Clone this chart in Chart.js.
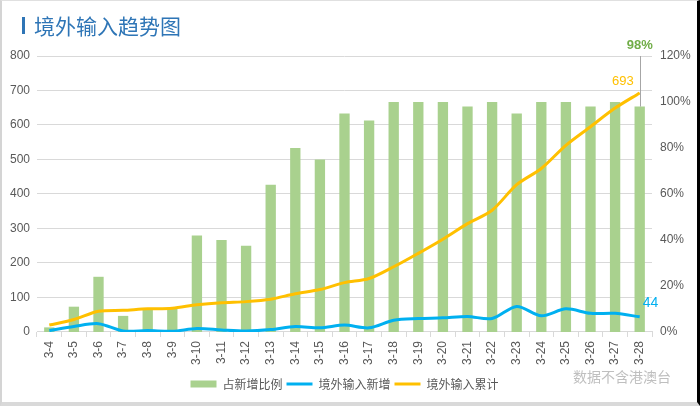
<!DOCTYPE html>
<html>
<head>
<meta charset="utf-8">
<script src="https://cdn.jsdelivr.net/npm/chart.js@4/dist/chart.umd.min.js"></script>
<style>
  html, body { margin: 0; padding: 0; background: #fff; }
  #wrap { position: relative; width: 700px; height: 406px; overflow: hidden; }
  #c { position: absolute; left: 0; top: 0; }
  #bar { position: absolute; left: 22px; top: 17px; width: 3px; height: 17px; background: #2e75b6; }
  #title { position: absolute; left: 34px; top: 10px; font-family: "Noto Sans CJK SC", sans-serif; font-size: 21px; color: #2e75b6; white-space: nowrap; line-height: 30px; }
  #note { position: absolute; right: 29px; top: 366px; font-family: "Noto Sans CJK SC", sans-serif; font-size: 14px; line-height: 20px; color: #bfbfbf; white-space: nowrap; }
  #frame { position: absolute; left: 0; top: 0; width: 700px; height: 406px; box-sizing: border-box;
    border-left: 2px solid #d4d4d4; border-top: 1px solid #e0e0e0; border-bottom: 4px solid #d9d9d9; border-right: 3px solid #000; pointer-events: none; }
</style>
</head>
<body>
<div id="wrap">
  <canvas id="c" width="700" height="406"></canvas>
  <div id="bar"></div>
  <div id="title">境外输入趋势图</div>
  <div id="note">数据不含港澳台</div>
  <div id="frame"></div>
</div>
<script>
const categories = ["3-4","3-5","3-6","3-7","3-8","3-9","3-10","3-11","3-12","3-13","3-14","3-15","3-16","3-17","3-18","3-19","3-20","3-21","3-22","3-23","3-24","3-25","3-26","3-27","3-28"];
// share of imported cases in daily new cases (right axis, fraction)
const shareOfNew = [0.02,0.11,0.24,0.07,0.10,0.105,0.42,0.40,0.375,0.64,0.80,0.75,0.95,0.92,1.00,1.00,1.00,0.98,1.00,0.95,1.00,1.00,0.98,1.00,0.98];
// daily new imported cases (left axis)
const importedNew = [4,16,24,3,4,2,10,6,3,7,16,12,20,12,34,39,41,45,39,74,47,67,54,54,44];
// cumulative imported cases (left axis)
const importedTotal = [20,36,60,63,67,69,79,85,88,95,111,123,143,155,189,228,269,314,353,427,474,541,595,649,693];
const leftTicks = [0,100,200,300,400,500,600,700,800];
const rightTicks = [0,0.2,0.4,0.6,0.8,1.0,1.2];

const seriesNames = ["占新增比例","境外输入新增","境外输入累计"];
const GREEN = "#a9d18e", BLUE = "#00b0f0", YELLOW = "#ffc000";
const tickFont = { family: "Liberation Sans", size: 12 };
const tickColor = "#595959";

const labelPlugin = {
  id: "endLabels",
  afterDatasetsDraw(chart) {
    const { ctx, scales, chartArea } = chart;
    const last = categories.length - 1;
    const x = scales.x.getPixelForValue(last);
    const yBar = scales.yR.getPixelForValue(shareOfNew[last]);
    const yTot = scales.y.getPixelForValue(importedTotal[last]);
    const yNew = scales.y.getPixelForValue(importedNew[last]);
    ctx.save();
    ctx.strokeStyle = "#a6a6a6";
    ctx.lineWidth = 1;
    ctx.beginPath();
    ctx.moveTo(Math.round(x) + 0.5, chartArea.top);
    ctx.lineTo(Math.round(x) + 0.5, yBar);
    ctx.stroke();
    ctx.textBaseline = "middle";
    ctx.font = "bold 13px 'Liberation Sans'";
    ctx.fillStyle = "#70ad47";
    ctx.textAlign = "center";
    ctx.fillText(Math.round(shareOfNew[last] * 100) + "%", x, chartArea.top - 11);
    ctx.font = "13px 'Liberation Sans'";
    ctx.fillStyle = YELLOW;
    ctx.textAlign = "right";
    ctx.fillText(String(importedTotal[last]), x - 6, yTot - 11);
    ctx.font = "14px 'Liberation Sans'";
    ctx.fillStyle = BLUE;
    ctx.textAlign = "left";
    ctx.fillText(String(importedNew[last]), x + 3, yNew - 14);
    ctx.restore();
  }
};

new Chart(document.getElementById("c"), {
  type: "bar",
  data: {
    labels: categories,
    datasets: [
      { type: "bar", label: seriesNames[0], data: shareOfNew, yAxisID: "yR", backgroundColor: GREEN, borderWidth: 0,
        categoryPercentage: 1, barPercentage: 0.42, order: 3, pointStyle: "rect" },
      { type: "line", label: seriesNames[1], data: importedNew, yAxisID: "y", borderColor: BLUE, backgroundColor: BLUE,
        borderWidth: 3, pointRadius: 0, tension: 0.3, order: 1, pointStyle: "line" },
      { type: "line", label: seriesNames[2], data: importedTotal, yAxisID: "y", borderColor: YELLOW, backgroundColor: YELLOW,
        borderWidth: 3, pointRadius: 0, tension: 0.3, order: 2, pointStyle: "line" }
    ]
  },
  options: {
    responsive: false,
    animation: false,
    events: [],
    layout: { padding: { top: 56, left: 0, right: 0, bottom: 6 } },
    plugins: {
      tooltip: { enabled: false },
      title: { display: false },
      legend: {
        position: "bottom",
        fullSize: false,
        labels: {
          usePointStyle: true, pointStyleWidth: 26, boxHeight: 7,
          sort: (a, b) => a.datasetIndex - b.datasetIndex,
          font: { family: "Noto Sans CJK SC", size: 12 }, color: tickColor, padding: 4
        }
      }
    },
    scales: {
      x: {
        afterFit(s) { s.height = s.height + 5; },
        grid: { display: true, drawOnChartArea: false, drawTicks: true, tickLength: 5, color: "#d9d9d9", offset: true },
        border: { display: true, color: "#d9d9d9" },
        ticks: { font: tickFont, color: tickColor, minRotation: 90, maxRotation: 90, autoSkip: false, padding: 4 }
      },
      y: {
        position: "left", min: 0, max: 800,
        afterBuildTicks(s) { s.ticks = leftTicks.map(v => ({ value: v })); },
        afterFit(s) { s.width = 37; },
        grid: { color: "#d9d9d9", drawTicks: false },
        border: { display: false },
        ticks: { font: tickFont, color: tickColor, padding: 7 }
      },
      yR: {
        position: "right", min: 0, max: 1.2,
        afterBuildTicks(s) { s.ticks = rightTicks.map(v => ({ value: v })); },
        afterFit(s) { s.width = 48; },
        grid: { display: false, drawTicks: false },
        border: { display: false },
        ticks: { font: tickFont, color: tickColor, padding: 8, callback: v => Math.round(v * 100) + "%" }
      }
    }
  },
  plugins: [labelPlugin]
});
</script>
</body>
</html>
